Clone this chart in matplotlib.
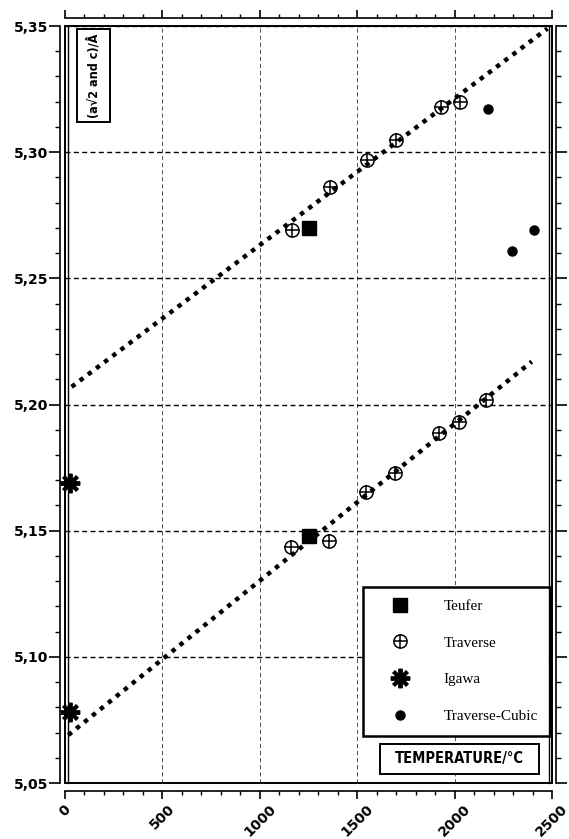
import matplotlib
matplotlib.use("Agg")
import matplotlib.pyplot as plt
from matplotlib.ticker import MultipleLocator, FuncFormatter
from matplotlib.patches import Rectangle
from matplotlib.lines import Line2D

# ---------------- data ----------------
teufer_T = [1255, 1255]
teufer_val = [5.270, 5.148]

traverse_c_T = [1165, 1360, 1548, 1700, 1930, 2028]
traverse_c_val = [5.269, 5.286, 5.297, 5.305, 5.318, 5.320]

traverse_a_T = [1161, 1355, 1543, 1694, 1920, 2022, 2160]
traverse_a_val = [5.1437, 5.1461, 5.1655, 5.1728, 5.1886, 5.1932, 5.2018]

igawa_T = [25, 25]
igawa_val = [5.169, 5.078]

cubic_T = [2169, 2293, 2407]
cubic_val = [5.317, 5.261, 5.269]

fit_c_T = [34, 2477]
fit_c_val = [5.207, 5.349]
fit_a_T = [17, 2396]
fit_a_val = [5.069, 5.217]

x_ticks = [0, 500, 1000, 1500, 2000, 2500]
y_ticks = [5.05, 5.10, 5.15, 5.20, 5.25, 5.30, 5.35]

legend_labels = ["Teufer", "Traverse", "Igawa", "Traverse-Cubic"]
ylabel_text = "(a\u221a2 and c)/\u00c5"
xlabel_text = "TEMPERATURE/\u00b0C"

# ---------------- figure ----------------
W, H = 569, 839
fig = plt.figure(figsize=(W / 100, H / 100), dpi=100)
L, R, T, B = 65, 552, 26, 783
ax = fig.add_axes([L / W, 1 - B / H, (R - L) / W, (B - T) / H])
ax.set_xlim(0, 2500)
ax.set_ylim(5.05, 5.35)

bold = dict(family="DejaVu Sans", weight="bold")

# spines offset outward (separate axis lines)
ax.spines["left"].set_position(("outward", 3.6))
ax.spines["right"].set_position(("outward", 3.2))
ax.spines["top"].set_position(("outward", 5.8))
ax.spines["bottom"].set_position(("outward", 5.8))
for s in ax.spines.values():
    s.set_linewidth(1.2)

ax.set_xticks(x_ticks)
ax.set_yticks(y_ticks)
ax.xaxis.set_minor_locator(MultipleLocator(100))
ax.yaxis.set_minor_locator(MultipleLocator(0.01))
ax.tick_params(axis="both", which="major", direction="out", width=1.2,
               top=True, right=True, labeltop=False, labelright=False)
ax.tick_params(axis="both", which="minor", direction="out", width=1.0,
               top=True, right=True)
ax.tick_params(axis="y", which="major", length=8, pad=0.5)
ax.tick_params(axis="y", which="minor", length=3.4)
ax.tick_params(axis="x", which="major", length=6, pad=2)
ax.tick_params(axis="x", which="minor", length=3)

ax.yaxis.set_major_formatter(FuncFormatter(lambda v, p: f"{v:.2f}".replace(".", ",")))
for lab in ax.get_yticklabels():
    lab.set_fontproperties(matplotlib.font_manager.FontProperties(size=10, **bold))
ax.set_xticklabels([str(v) for v in x_ticks], rotation=45, ha="center", va="top",
                   fontsize=10, **bold)

# grid
ax.yaxis.grid(True, which="major", color="black", lw=1.0, linestyle=(0, (3.6, 2.4)))
ax.xaxis.grid(True, which="major", color="#333333", lw=0.6, linestyle=(0, (5, 3.5)))
ax.set_axisbelow(True)

# frame box (double lines at left/right)
ax.add_patch(Rectangle((0, 0), 1, 1, transform=ax.transAxes, fill=False,
                       lw=1.4, ec="black", clip_on=False, zorder=5))
fig.add_artist(Line2D([(L + 3) / W] * 2, [1 - B / H, 1 - T / H], color="black", lw=1.0))
fig.add_artist(Line2D([(R - 3) / W] * 2, [1 - B / H, 1 - T / H], color="black", lw=1.0))

# fit lines
dot = dict(color="black", lw=3.2, linestyle=(0, (1, 1.3)), dash_capstyle="butt", zorder=3)
ax.plot(fit_c_T, fit_c_val, **dot)
ax.plot(fit_a_T, fit_a_val, **dot)

# markers
h_teu, = ax.plot(teufer_T, teufer_val, ls="none", marker="s", ms=9.5, mfc="black",
                 mec="black", zorder=4)
trav_T = traverse_c_T + traverse_a_T
trav_v = traverse_c_val + traverse_a_val
h_tr1, = ax.plot(trav_T, trav_v, ls="none", marker="o", ms=9.5, mfc="none",
                 mec="black", mew=1.1, zorder=4)
h_tr2, = ax.plot(trav_T, trav_v, ls="none", marker="+", ms=9.5, mec="black",
                 mew=1.1, zorder=4)
h_iga, = ax.plot(igawa_T, igawa_val, ls="none", marker=(8, 2, 0), ms=14,
                 mec="black", mew=2.8, zorder=6, clip_on=False)
h_cub, = ax.plot(cubic_T, cubic_val, ls="none", marker="o", ms=6.5, mfc="black",
                 mec="black", zorder=4)

leg = ax.legend([h_teu, (h_tr1, h_tr2), h_iga, h_cub], legend_labels,
                loc="upper left", bbox_to_anchor=(363 / W, 1 - 587 / H),
                bbox_transform=fig.transFigure,
                prop=dict(family="Liberation Serif", size=11),
                frameon=True, fancybox=False, edgecolor="black", framealpha=1,
                borderpad=0.82, handlelength=3.25, handletextpad=1.2,
                labelspacing=1.5, borderaxespad=0)
leg.get_frame().set_linewidth(1.8)
leg.set_zorder(10)

# x-label box
fig.add_artist(Rectangle((380 / W, 1 - 774 / H), 159 / W, 30 / H, transform=fig.transFigure,
                         fill=True, fc="white", ec="black", lw=1.4, zorder=10))
fig.text(459.5 / W, 1 - 759 / H, xlabel_text, ha="center", va="center",
         fontsize=10.5, zorder=11, fontstretch="condensed", **bold)

# y-label box
fig.add_artist(Rectangle((77 / W, 1 - 122 / H), 33 / W, 93 / H, transform=fig.transFigure,
                         fill=True, fc="white", ec="black", lw=1.4, zorder=10))
fig.text(93.5 / W, 1 - 75.5 / H, ylabel_text, ha="center", va="center", rotation=90,
         fontsize=9.0, zorder=11, fontstretch="condensed", **bold)

fig.savefig("out.png", dpi=100)
